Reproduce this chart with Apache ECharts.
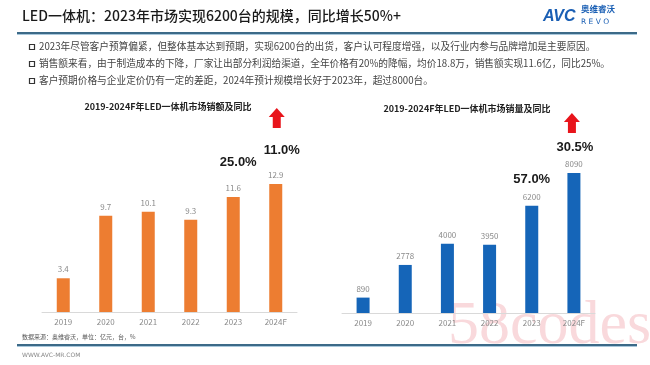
<!DOCTYPE html>
<html><head><meta charset="utf-8">
<script src="https://cdn.jsdelivr.net/npm/echarts@6/dist/echarts.min.js"></script>
<style>html,body{margin:0;padding:0;background:#fff}#c{width:650px;height:365px}</style>
</head><body><div id="c"></div>
<script>
var years = ['2019','2020','2021','2022','2023','2024F'];
var salesValue = [3.4, 9.7, 10.1, 9.3, 11.6, 12.9];
var salesVolume = [890, 2778, 4000, 3950, 6200, 8090];
var valueGrowth = ['', '', '', '', '25.0%', '11.0%'];
var volumeGrowth = ['', '', '', '', '57.0%', '30.5%'];
var mainTitle = 'LED一体机：2023年市场实现6200台的规模，同比增长50%+';
var bullets = [
  '2023年尽管客户预算偏紧，但整体基本达到预期，实现6200台的出货，客户认可程度增强，以及行业内参与品牌增加是主要原因。',
  '销售额来看，由于制造成本的下降，厂家让出部分利润给渠道，全年价格有20%的降幅，均价18.8万，销售额实现11.6亿，同比25%。',
  '客户预期价格与企业定价仍有一定的差距，2024年预计规模增长好于2023年，超过8000台。'
];
var leftTitle = '2019-2024F年LED一体机市场销额及同比';
var rightTitle = '2019-2024F年LED一体机市场销量及同比';
var sourceNote = '数据来源：奥维睿沃，单位：亿元，台，%';

var FONT = '"Noto Sans CJK SC","Noto Sans",sans-serif';
var chart = echarts.init(document.getElementById('c'), null, {renderer:'canvas'});

function xAx(idx){
  return {gridIndex: idx, type:'category', data: years,
    axisLine:{show:true, lineStyle:{color:'#d9d9d9', width:1}},
    axisTick:{show:false},
    axisLabel:{color:'#8a8a8a', fontSize:8, fontFamily:FONT, margin:6}};
}
function yAx(idx, max){
  return {gridIndex: idx, type:'value', min:0, max:max, show:false, splitLine:{show:false}};
}
var option = {
  animation:false,
  backgroundColor:'#fff',
  grid:[
    {left:42, width:255, top:113, height:199},
    {left:342, width:253, top:113, height:200}
  ],
  xAxis:[xAx(0), xAx(1)],
  yAxis:[yAx(0, 20.06), yAx(1, 11560)],
  series:[
    {type:'bar', xAxisIndex:0, yAxisIndex:0, data:salesValue, barWidth:13,
      itemStyle:{color:'#ED7D31'},
      label:{show:true, position:'top', color:'#8a8a8a', fontSize:8, fontFamily:FONT, distance:5}},
    {type:'bar', xAxisIndex:1, yAxisIndex:1, data:salesVolume, barWidth:13,
      itemStyle:{color:'#1565B8'},
      label:{show:true, position:'top', color:'#8a8a8a', fontSize:8, fontFamily:FONT, distance:5}}
  ],
  graphic:[]
};
chart.setOption(option);

var g = [];
// header
g.push({type:'text', left:22, top:9, style:{text:mainTitle, font:'500 14px '+FONT, fill:'#1a1a1a'}});
g.push({type:'text', left:543, top:9, style:{text:'AVC', font:'italic bold 16px "Liberation Sans",sans-serif', fill:'#1a5fb4'}});
g.push({type:'text', left:581, top:5, style:{text:'奥维睿沃', font:'bold 8.5px '+FONT, fill:'#1a5fb4'}});
g.push({type:'text', left:581, top:18, style:{text:'R E V O', font:'7.5px "DejaVu Sans",sans-serif', fill:'#1a5fb4'}});
g.push({type:'rect', shape:{x:17, y:32, width:620, height:2}, style:{fill:'#3c6a88'}});
g.push({type:'rect', shape:{x:17, y:34, width:620, height:1}, style:{fill:'#a9c8dc'}});
// bullets
var by = [47, 64, 81];
bullets.forEach(function(t, i){
  g.push({type:'rect', shape:{x:29.5, y:by[i]-2.5, width:5, height:5}, style:{fill:'none', stroke:'#333', lineWidth:1.2}});
  g.push({type:'text', left:39, top:by[i]-6, style:{text:t, font:'9.7px '+FONT, fill:'#444'}});
});
// chart titles
g.push({type:'text', x:168, y:107, style:{text:leftTitle, font:'bold 9px '+FONT, fill:'#222', align:'center', verticalAlign:'middle'}});
g.push({type:'text', x:467, y:109, style:{text:rightTitle, font:'bold 9px '+FONT, fill:'#222', align:'center', verticalAlign:'middle'}});

// growth labels and arrows positioned via scales
function arrow(cx, top){
  return {type:'polygon', shape:{points:[[cx, top],[cx+8, top+9],[cx+4, top+9],[cx+4, top+20],[cx-4, top+20],[cx-4, top+9],[cx-8, top+9]]},
    style:{fill:'#e8141b'}};
}
function addGrowth(seriesIdx, arr, pctYs, dx, arrowTop, arrowDx){
  arr.forEach(function(t, i){
    if(!t) return;
    var p = chart.convertToPixel({seriesIndex:seriesIdx}, [i, 0]);
    g.push({type:'text', x:p[0]+dx[i], y:pctYs[i], style:{text:t, font:'bold 13px "Liberation Sans","DejaVu Sans",sans-serif', fill:'#1a1a1a', align:'center', verticalAlign:'middle'}});
  });
  var last = chart.convertToPixel({seriesIndex:seriesIdx}, [arr.length-1, 0]);
  g.push(arrow(last[0]+arrowDx, arrowTop));
}
addGrowth(0, valueGrowth, [0,0,0,0,162,150], [0,0,0,0,5,6], 108, 1);
addGrowth(1, volumeGrowth, [0,0,0,0,179,147], [0,0,0,0,0,1], 113, -2);

// footer
g.push({type:'text', left:22, top:334, style:{text:sourceNote, font:'6px '+FONT, fill:'#555'}});
g.push({type:'rect', shape:{x:17, y:344, width:620, height:2}, style:{fill:'#3c6a88'}});
g.push({type:'rect', shape:{x:17, y:346, width:620, height:1}, style:{fill:'#a9c8dc'}});
g.push({type:'text', left:22, top:352, style:{text:'WWW.AVC-MR.COM', font:'6px "DejaVu Sans",sans-serif', fill:'#888'}});
// watermark
g.push({type:'text', left:448, top:296, style:{text:'58codes', font:'62px "Liberation Serif",serif', fill:'rgba(235,120,130,0.28)'}});

chart.setOption({graphic:g});
</script></body></html>
